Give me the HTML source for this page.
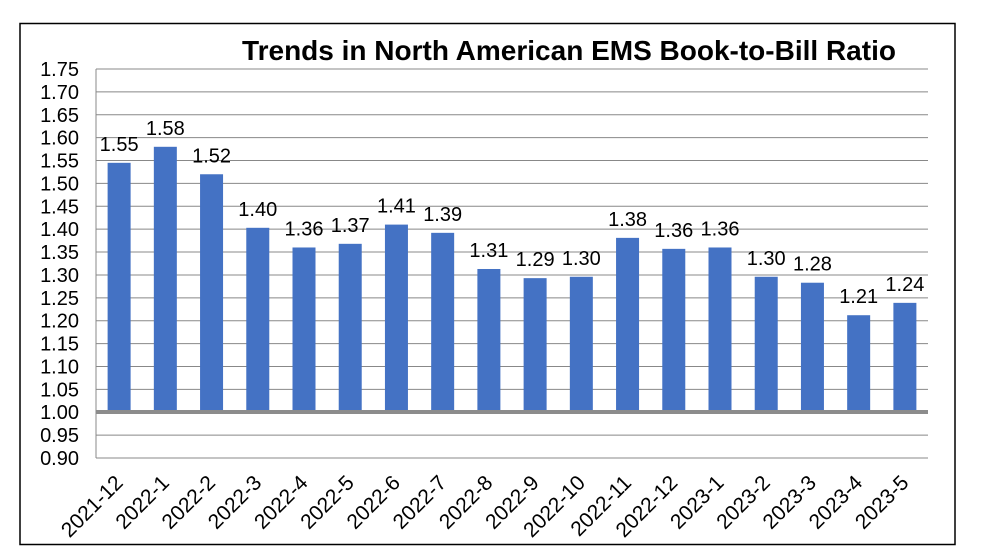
<!DOCTYPE html>
<html><head><style>body{margin:0;background:#fff}svg{display:block}</style></head><body>
<svg width="988" height="559" xmlns="http://www.w3.org/2000/svg" font-family="Liberation Sans, Arial, sans-serif">
<rect x="20" y="23.5" width="935" height="521" fill="#fff" stroke="#000" stroke-width="1.5"/>
<text x="569" y="60" text-anchor="middle" font-size="28" font-weight="bold">Trends in North American EMS Book-to-Bill Ratio</text>
<g id="grid" stroke="#888" stroke-width="1"></g>
<g id="yl" font-size="20" text-anchor="end"></g>
<g id="bars" fill="#4472C4"></g>
<g id="vl" font-size="20" text-anchor="middle"></g>
<g id="xl" font-size="21" text-anchor="end"></g>
<line x1="96" y1="412" x2="928" y2="412" stroke="#8c8c8c" stroke-width="4"/>
<script>
(function(){
var ns="http://www.w3.org/2000/svg";
function el(p,t,a,txt){var e=document.createElementNS(ns,t);for(var k in a)e.setAttribute(k,a[k]);if(txt)e.textContent=txt;document.getElementById(p).appendChild(e);}
var yT=69,yB=458,step=(yB-yT)/17;
for(var i=0;i<=17;i++){var y=yB-i*step;el('grid','line',{x1:96,x2:928,y1:y,y2:y});el('yl','text',{x:79,y:y+7},(0.9+i*0.05).toFixed(2));}
el('grid','line',{x1:96,x2:96,y1:yT,y2:yB});
var v=[1.545,1.58,1.52,1.403,1.36,1.368,1.41,1.392,1.313,1.293,1.296,1.381,1.357,1.36,1.296,1.283,1.212,1.239];
var lab=["1.55","1.58","1.52","1.40","1.36","1.37","1.41","1.39","1.31","1.29","1.30","1.38","1.36","1.36","1.30","1.28","1.21","1.24"];
var cat=["2021-12","2022-1","2022-2","2022-3","2022-4","2022-5","2022-6","2022-7","2022-8","2022-9","2022-10","2022-11","2022-12","2023-1","2023-2","2023-3","2023-4","2023-5"];
var w=832/18;
for(var i=0;i<18;i++){var cx=96+w*(i+0.5);var y=yB-(v[i]-0.9)/0.05*step;
el('bars','rect',{x:cx-11.5,y:y,width:23,height:412-y});
el('vl','text',{x:cx,y:y-12},lab[i]);
var ax=cx+5,ay=484;
el('xl','text',{x:ax,y:ay,transform:'rotate(-45 '+ax+' '+ay+')'},cat[i]);}
})();
</script>
</svg>
</body></html>
